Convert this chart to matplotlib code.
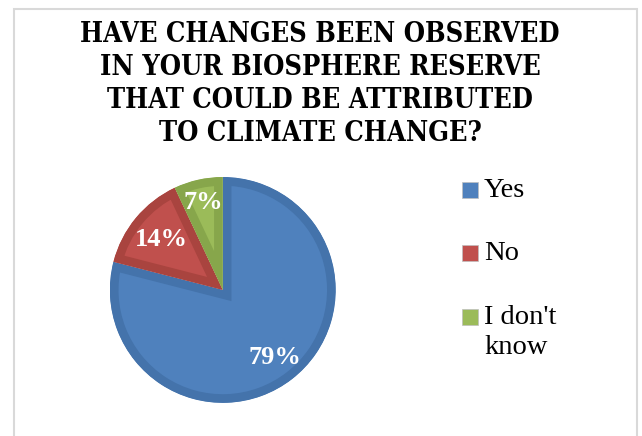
import matplotlib
matplotlib.use("Agg")
import matplotlib.pyplot as plt
from matplotlib.patches import Rectangle
from matplotlib import font_manager

# ---- data ----
categories = ["Yes", "No", "I don't know"]
values = [79, 14, 7]
title = "HAVE CHANGES BEEN OBSERVED\nIN YOUR BIOSPHERE RESERVE\nTHAT COULD BE ATTRIBUTED\nTO CLIMATE CHANGE?"
legend_labels = ["Yes", "No", "I don't\nknow"]

# ---- styles ----
fill_colors = ["#4F81BD", "#C0504D", "#9BBB59"]
edge_colors = ["#4473AB", "#A9443F", "#87A64B"]
label_radii = [0.76, 0.70, 0.79]
serif = ["Liberation Serif", "DejaVu Serif"]

names = {f.name for f in font_manager.fontManager.ttflist}
title_family = ["DejaVu Serif Condensed"] if "DejaVu Serif Condensed" in names else ["DejaVu Serif"]

fig = plt.figure(figsize=(6.42, 4.36), dpi=100)
fig.patch.set_facecolor("white")

# chart border
fig.add_artist(Rectangle((14 / 642, -0.05), (637 - 14) / 642, 1.05 - 9 / 436,
                         transform=fig.transFigure, fill=False,
                         edgecolor="#D9D9D9", linewidth=1.5))

# title
fig.text(0.4985, 1 - 21 / 436, title, ha="center", va="top",
         fontsize=19.5, fontweight="bold", family=title_family,
         fontstretch="condensed", linespacing=1.29, color="black")

ax = fig.add_axes([0.171, 0.076, 0.352, 0.518])
wedges, texts, autotexts = ax.pie(
    values, colors=fill_colors, startangle=90, counterclock=False,
    autopct="%d%%", pctdistance=1.0, radius=1.0,
    textprops=dict(color="white", fontsize=19, fontweight="bold", family=serif))
for w, ec in zip(wedges, edge_colors):
    w.set_edgecolor(ec)
    w.set_linewidth(12.5)
    w.set_clip_path(w)
    w.set_clip_on(True)
for t, r in zip(autotexts, label_radii):
    x, y = t.get_position()
    t.set_position((x * r, y * r))
ax.set_xlim(-1, 1)
ax.set_ylim(-1, 1)
ax.set_aspect("equal")
ax.axis("off")

# legend (manual, square aligned with first text line)
leg_y = [190, 253, 317]
for lab, col, y in zip(legend_labels, fill_colors, leg_y):
    fig.add_artist(Rectangle((462 / 642, 1 - (y + 8) / 436), 16 / 642, 16 / 436,
                             transform=fig.transFigure, facecolor=col,
                             edgecolor="#BFBFBF", linewidth=0.5))
    fig.text(484 / 642, 1 - (y - 12) / 436, lab, ha="left", va="top",
             fontsize=20.5, family=serif, color="black", linespacing=1.25)

fig.savefig("out.png", dpi=100, facecolor="white")
